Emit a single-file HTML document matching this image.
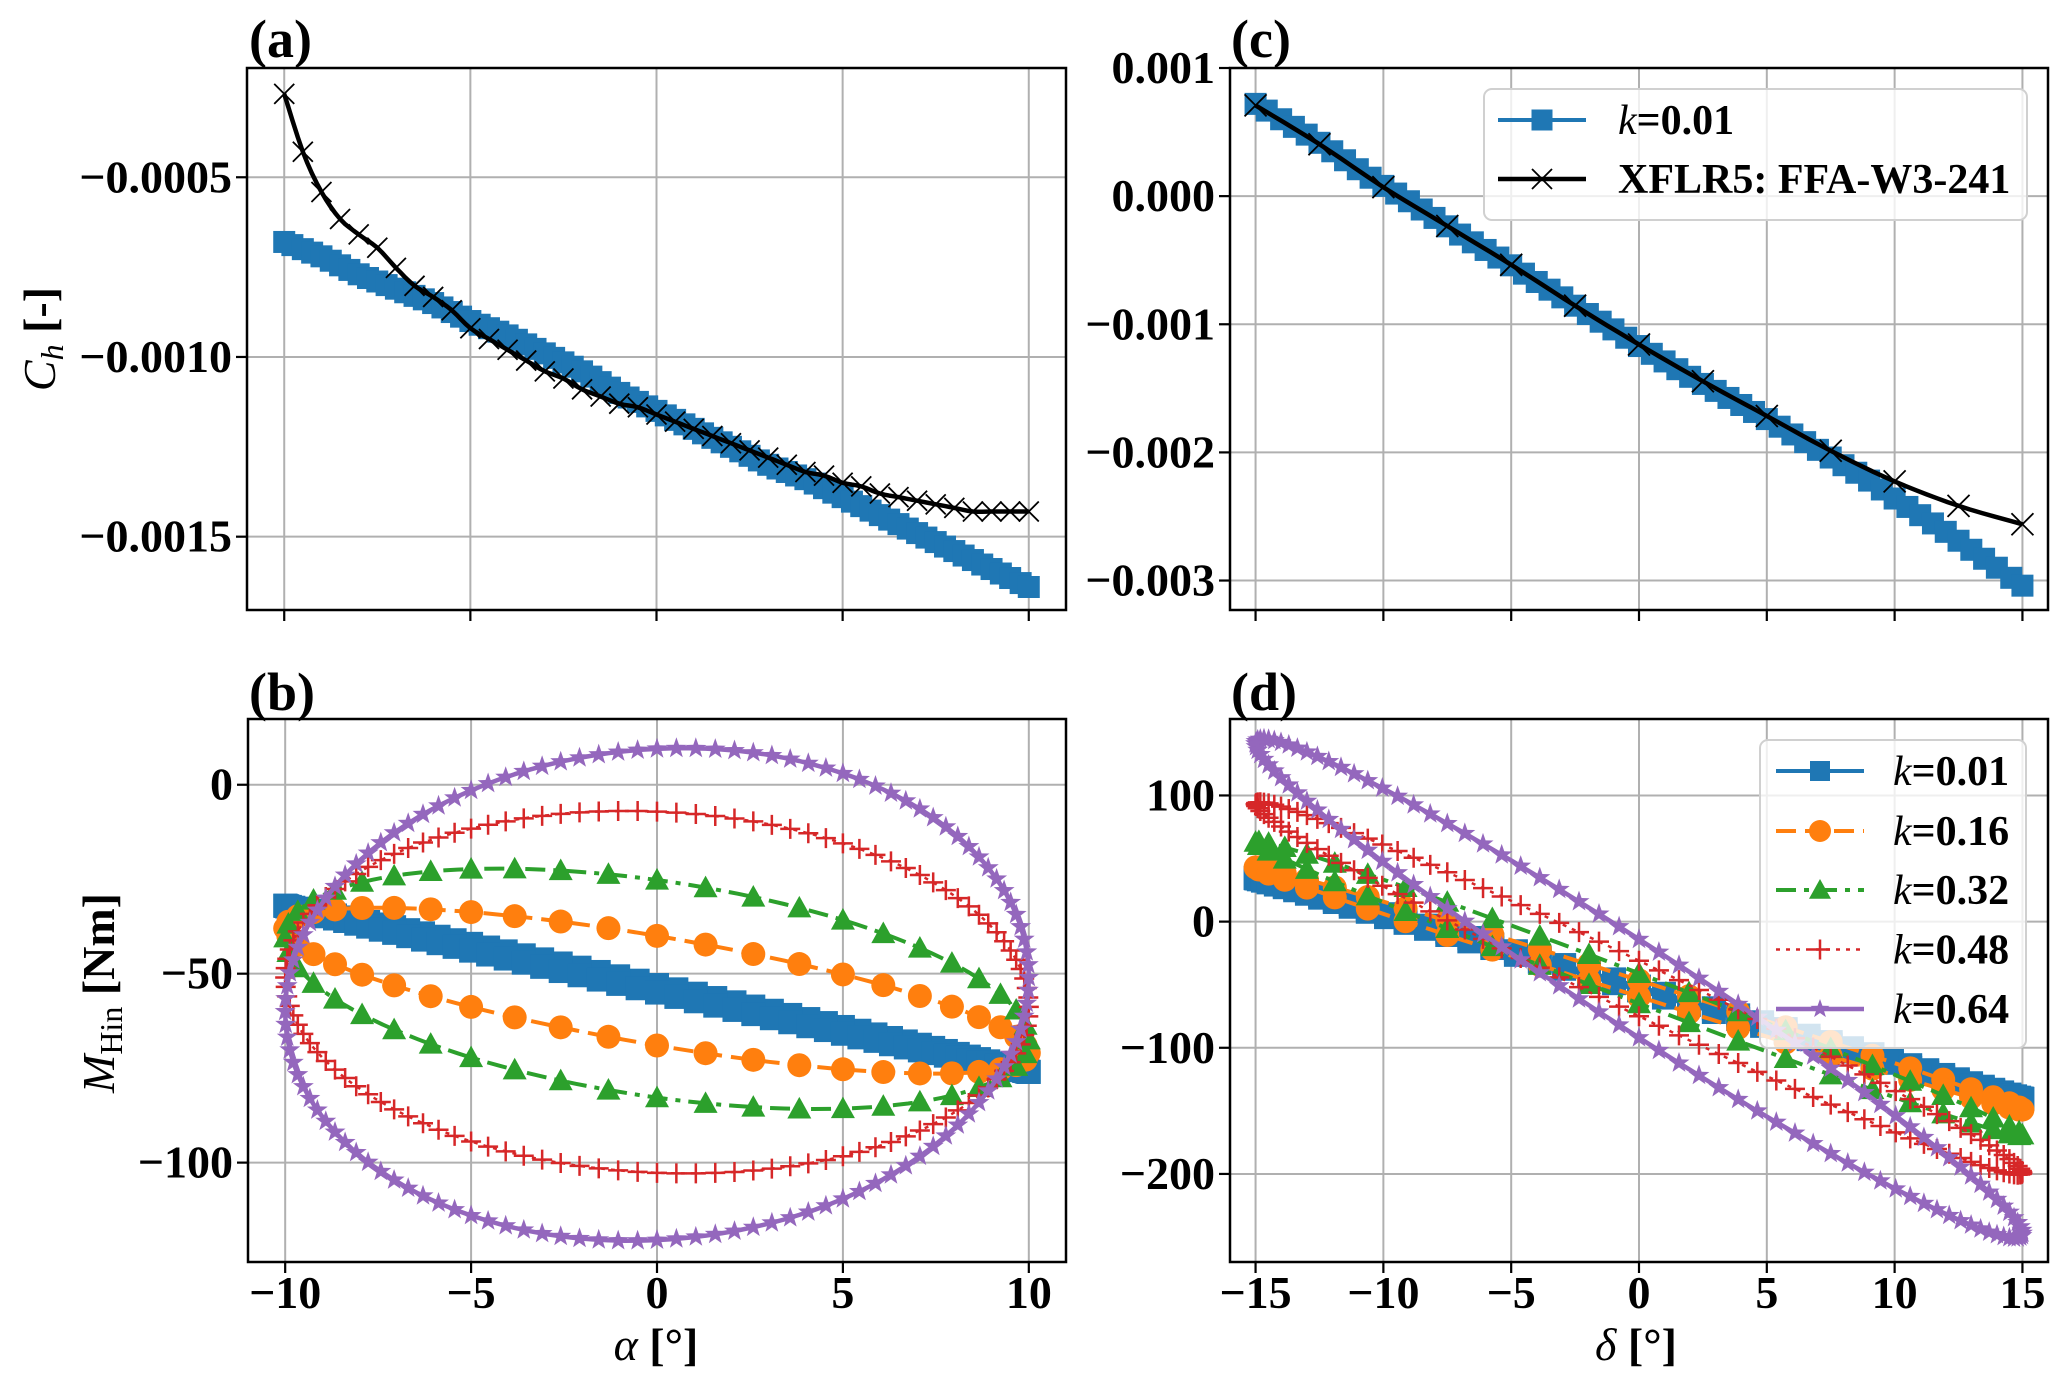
<!DOCTYPE html>
<html><head><meta charset="utf-8"><style>
html,body{margin:0;padding:0;background:#fff;}
svg{display:block;font-family:"Liberation Serif","DejaVu Serif",serif;font-weight:bold;}
</style></head><body>
<svg id="fig" xmlns="http://www.w3.org/2000/svg" width="2067" height="1386" viewBox="0 0 2067 1386"></svg>
<script>
// ---------- data ----------
const aAlpha = [-10,-9.5,-9,-8.5,-8,-7.5,-7,-6.5,-6,-5.5,-5,-4.5,-4,-3.5,-3,-2.5,-2,-1.5,-1,-0.5,0,0.5,1,1.5,2,2.5,3,3.5,4,4.5,5,5.5,6,6.5,7,7.5,8,8.5,9,9.5,10];
const aBlueCh = [-0.00068,-0.00070,-0.00072,-0.000745,-0.00077,-0.00079,-0.00081,-0.00083,-0.00085,-0.000875,-0.00090,-0.00092,-0.00094,-0.000965,-0.00099,-0.001015,-0.00104,-0.00107,-0.00110,-0.001125,-0.00115,-0.001175,-0.00120,-0.001225,-0.00125,-0.001275,-0.00130,-0.00132,-0.00134,-0.001365,-0.00139,-0.001415,-0.00144,-0.001465,-0.00149,-0.001515,-0.00154,-0.001565,-0.00159,-0.001615,-0.00164];
const aXflrCh = [-0.000268,-0.000429,-0.000541,-0.000616,-0.000659,-0.000696,-0.000752,-0.000802,-0.000833,-0.00087,-0.00092,-0.00095,-0.00098,-0.00101,-0.00104,-0.00106,-0.00109,-0.00111,-0.00113,-0.00114,-0.00116,-0.00118,-0.00120,-0.00122,-0.00124,-0.00126,-0.00128,-0.00130,-0.00132,-0.00133,-0.00135,-0.00136,-0.00138,-0.00139,-0.00140,-0.00141,-0.00142,-0.00143,-0.00143,-0.00143,-0.00143];

const cDelta = [-15,-14,-13,-12,-11,-10,-9,-8,-7,-6,-5,-4,-3,-2,-1,0,1,2,3,4,5,6,7,8,9,10,11,12,13,14,15];
const cBlueCh = [0.00072,0.0006,0.00048,0.00035,0.00021,0.00008,-0.00004,-0.00017,-0.0003,-0.00042,-0.00054,-0.00067,-0.00079,-0.00092,-0.00104,-0.00117,-0.00129,-0.00141,-0.00152,-0.00163,-0.00174,-0.00186,-0.00198,-0.0021,-0.00222,-0.00236,-0.00249,-0.00262,-0.00276,-0.0029,-0.00304];
const cXflrDelta = [-15,-12.5,-10,-7.5,-5,-2.5,0,2.5,5,7.5,10,12.5,15];
const cXflrCh = [0.000708,0.000405,0.00007,-0.000233,-0.000536,-0.000855,-0.001158,-0.001445,-0.001716,-0.001987,-0.002226,-0.002417,-0.002561];

const bAlpha = [10,9.66,8.66,7.07,5,2.59,0,-2.59,-5,-7.07,-8.66,-9.66,-10,-9.66,-8.66,-7.07,-5,-2.59,0,2.59,5,7.07,8.66,9.66];
const bM001 = [-76.0,-75.0,-72.6,-68.8,-64.1,-58.7,-53.0,-47.3,-42.1,-37.7,-34.6,-32.8,-32.0,-33.0,-35.4,-39.2,-43.9,-49.3,-55.0,-60.7,-65.9,-70.3,-73.4,-75.3];
const bM016 = [-71.0,-66.7,-61.5,-55.9,-50.2,-44.8,-40.0,-36.2,-33.7,-32.6,-33.0,-34.8,-38.0,-42.3,-47.5,-53.1,-58.8,-64.2,-69.0,-72.8,-75.3,-76.4,-76.0,-74.2];
const bM032 = [-67.5,-59.6,-51.3,-43.2,-35.8,-29.7,-25.2,-22.7,-22.3,-24.1,-27.9,-33.5,-40.5,-48.4,-56.7,-64.8,-72.2,-78.3,-82.8,-85.3,-85.7,-83.9,-80.1,-74.5];
const bM048 = [-58.8,-46.3,-34.4,-23.9,-15.5,-9.7,-7.1,-7.7,-11.6,-18.3,-27.6,-38.8,-51.0,-63.5,-75.4,-85.9,-94.4,-100.1,-102.7,-102.1,-98.3,-91.5,-82.2,-71.1];
const bM064 = [-51.0,-34.3,-19.1,-6.4,3.0,8.5,9.5,6.1,-1.5,-12.7,-26.9,-43.0,-60.0,-76.7,-91.9,-104.6,-114.0,-119.5,-120.5,-117.1,-109.6,-98.3,-84.1,-68.0];

const dDelta = [15,14.49,12.99,10.61,7.5,3.88,0,-3.88,-7.5,-10.61,-12.99,-14.49,-15,-14.49,-12.99,-10.61,-7.5,-3.88,0,3.88,7.5,10.61,12.99,14.49];
const dM001 = [-140.5,-137.1,-128.1,-113.8,-95.5,-74.3,-51.5,-28.9,-8.0,10.0,23.6,31.9,34.5,31.1,22.1,7.8,-10.6,-31.8,-54.5,-77.2,-98.1,-116.0,-129.6,-137.9];
const dM016 = [-149,-144.0,-132.9,-116.3,-95.4,-71.6,-46.5,-21.8,0.6,19.5,33.4,41.4,43,38.0,26.9,10.3,-10.6,-34.4,-59.5,-84.2,-106.6,-125.5,-139.4,-147.4];
const dM032 = [-169,-162.0,-147.5,-126.5,-100.6,-71.4,-41,-11.4,15.4,37.5,53.5,62.2,63,56.0,41.5,20.5,-5.4,-34.6,-65,-94.6,-121.4,-143.5,-159.5,-168.2];
const dM048 = [-199,-188.3,-168.4,-140.7,-107.0,-69.6,-31,6.1,39.1,65.8,84.4,93.7,93,82.3,62.4,34.7,1.0,-36.5,-75,-112.1,-145.1,-171.8,-190.4,-199.7];
const dM064 = [-247,-230.3,-201.5,-162.6,-116.2,-65.5,-14,34.9,77.8,111.8,134.5,144.5,141,124.3,95.5,56.6,10.2,-40.5,-92,-140.9,-183.8,-217.8,-240.5,-250.5];

const abXTicks = [-10,-5,0,5,10];
const abXTickLabels = ["\u221210","\u22125","0","5","10"];
const cdXTicks = [-15,-10,-5,0,5,10,15];
const cdXTickLabels = ["\u221215","\u221210","\u22125","0","5","10","15"];
const aYTicks = [-0.0005,-0.0010,-0.0015];
const aYTickLabels = ["\u22120.0005","\u22120.0010","\u22120.0015"];
const bYTicks = [0,-50,-100];
const bYTickLabels = ["0","\u221250","\u2212100"];
const cYTicks = [0.001,0,-0.001,-0.002,-0.003];
const cYTickLabels = ["0.001","0.000","\u22120.001","\u22120.002","\u22120.003"];
const dYTicks = [100,0,-100,-200];
const dYTickLabels = ["100","0","\u2212100","\u2212200"];
const kLabels = ["0.01","0.16","0.32","0.48","0.64"];

// ---------- helpers ----------
const NS="http://www.w3.org/2000/svg";
const svg=document.getElementById('fig');
function mk(tag,attrs,parent){const e=document.createElementNS(NS,tag);for(const k in attrs)e.setAttribute(k,attrs[k]);(parent||svg).appendChild(e);return e;}
const C={blue:"#1f77b4",orange:"#ff7f0e",green:"#2ca02c",red:"#d62728",purple:"#9467bd"};

function makeAxes(name,x0,x1,y0,y1,xmin,xmax,ymin,ymax){
  const g=mk('g',{});
  
  
  const clipId='clip-'+name;
  const cp=mk('clipPath',{id:clipId},g);
  mk('rect',{x:x0,y:y0,width:x1-x0,height:y1-y0},cp);
  const ax={g,x0,x1,y0,y1,
    sx:v=>x0+(v-xmin)/(xmax-xmin)*(x1-x0),
    sy:v=>y1-(v-ymin)/(ymax-ymin)*(y1-y0)};
  ax.grid=mk('g',{},g);
  ax.plot=mk('g',{'clip-path':'url(#'+clipId+')'},g);
  ax.top=mk('g',{},g);
  return ax;
}
function xTicks(ax,ticks,labels){
  ticks.forEach((t,i)=>{
    const x=ax.sx(t);
    const gl=mk('line',{x1:x,x2:x,y1:ax.y0,y2:ax.y1,stroke:"#b0b0b0","stroke-width":2},ax.grid);
    
    
    const tk=mk('line',{x1:x,x2:x,y1:ax.y1,y2:ax.y1+11,stroke:"#000","stroke-width":2.2},ax.top);
    
    
    if(labels){
      const tx=mk('text',{x:x,y:ax.y1+46,'text-anchor':'middle','font-size':46},ax.top);
      tx.textContent=labels[i];
      
      
    }
  });
}
function yTicks(ax,ticks,labels){
  ticks.forEach((t,i)=>{
    const y=ax.sy(t);
    const gl=mk('line',{x1:ax.x0,x2:ax.x1,y1:y,y2:y,stroke:"#b0b0b0","stroke-width":2},ax.grid);
    
    
    const tk=mk('line',{x1:ax.x0-11,x2:ax.x0,y1:y,y2:y,stroke:"#000","stroke-width":2.2},ax.top);
    
    
    const tx=mk('text',{x:ax.x0-15,y:y+15,'text-anchor':'end','font-size':46},ax.top);
    tx.textContent=labels[i];
    
    
  });
}
function frame(ax){
  const r=mk('rect',{x:ax.x0,y:ax.y0,width:ax.x1-ax.x0,height:ax.y1-ax.y0,fill:"none",stroke:"#000","stroke-width":2.5},ax.top);
  
  
}
function catmull(pts,closed,n){
  const out=[];const N=pts.length;
  const get=i=>closed?pts[(i+N)%N]:pts[Math.max(0,Math.min(N-1,i))];
  const segs=closed?N:N-1;
  for(let i=0;i<segs;i++){
    const p0=get(i-1),p1=get(i),p2=get(i+1),p3=get(i+2);
    for(let s=0;s<n;s++){
      const t=s/n,t2=t*t,t3=t2*t;
      out.push([0.5*((2*p1[0])+(-p0[0]+p2[0])*t+(2*p0[0]-5*p1[0]+4*p2[0]-p3[0])*t2+(-p0[0]+3*p1[0]-3*p2[0]+p3[0])*t3),
                0.5*((2*p1[1])+(-p0[1]+p2[1])*t+(2*p0[1]-5*p1[1]+4*p2[1]-p3[1])*t2+(-p0[1]+3*p1[1]-3*p2[1]+p3[1])*t3)]);
    }
  }
  if(!closed)out.push(pts[N-1]);
  return out;
}
function marker(type,x,y,col,sz,parent){
  let e;
  if(type==='s'){e=mk('rect',{x:x-sz/2,y:y-sz/2,width:sz,height:sz,fill:col},parent);}
  else if(type==='o'){e=mk('circle',{cx:x,cy:y,r:sz/2,fill:col},parent);}
  else if(type==='^'){const h=sz/2;e=mk('polygon',{points:`${x},${y-h} ${x+h},${y+h*0.8} ${x-h},${y+h*0.8}`,fill:col},parent);}
  else if(type==='+'){const h=sz/2;e=mk('path',{d:`M${x-h},${y}H${x+h}M${x},${y-h}V${y+h}`,stroke:col,'stroke-width':2.5,fill:'none'},parent);}
  else if(type==='x'){const h=sz/2;e=mk('path',{d:`M${x-h},${y-h}L${x+h},${y+h}M${x-h},${y+h}L${x+h},${y-h}`,stroke:col,'stroke-width':1.8,fill:'none'},parent);}
  else if(type==='*'){let p=[];for(let k=0;k<10;k++){const r=k%2?sz*0.2:sz/2;const a=-Math.PI/2+k*Math.PI/5;p.push((x+r*Math.cos(a)).toFixed(1)+','+(y+r*Math.sin(a)).toFixed(1));}
    e=mk('polygon',{points:p.join(' '),fill:col},parent);}
  
  
  return e;
}
function series(ax,name,xs,ys,o){
  const g=mk('g',{},ax.plot);
  
  
  const pts=xs.map((v,i)=>[ax.sx(v),ax.sy(ys[i])]);
  const sm=catmull(pts,o.closed,o.sub);
  const d='M'+sm.map(p=>p[0].toFixed(1)+','+p[1].toFixed(1)).join('L')+(o.closed?'Z':'');
  const ln=mk('path',{d,fill:'none',stroke:o.col,'stroke-width':o.lw,'stroke-dasharray':o.dash||'none','stroke-linejoin':'round'},g);
  
  
  const mp=o.msub?catmull(pts,o.closed,o.msub):pts;
  mp.forEach(p=>marker(o.m,p[0],p[1],o.col,o.ms,g));
}
function text(str,x,y,fs,attrs,name){
  const t=mk('text',Object.assign({x,y,'font-size':fs},attrs||{}));
  t.innerHTML=str;
  
  
  return t;
}

// ---------- axes ----------
const A=makeAxes('panel-a',247,1066,68,610,-11,11,-0.001704,-0.000196);
const B=makeAxes('panel-b',248,1066,719,1262,-11,11,-126.3,17.4);
const Cc=makeAxes('panel-c',1230,2048,68,610,-16,16,-0.00323,0.001);
const D=makeAxes('panel-d',1230,2048,719,1262,-16,16,-269.8,160.6);

xTicks(A,abXTicks,null); yTicks(A,aYTicks,aYTickLabels);
xTicks(B,abXTicks,abXTickLabels); yTicks(B,bYTicks,bYTickLabels);
xTicks(Cc,cdXTicks,null); yTicks(Cc,cYTicks,cYTickLabels);
xTicks(D,cdXTicks,cdXTickLabels); yTicks(D,dYTicks,dYTickLabels);

// panel a
series(A,'a-k001-series',aAlpha,aBlueCh,{col:C.blue,lw:4,m:'s',ms:22,closed:false,sub:4,msub:2});
series(A,'a-xflr5-series',aAlpha,aXflrCh,{col:'#000',lw:4.5,m:'x',ms:20,closed:false,sub:4});
// panel c
series(Cc,'c-k001-series',cDelta,cBlueCh,{col:C.blue,lw:4,m:'s',ms:22,closed:false,sub:4,msub:2});
series(Cc,'c-xflr5-series',cXflrDelta,cXflrCh,{col:'#000',lw:4.5,m:'x',ms:22,closed:false,sub:6});
// panel b
series(B,'b-k001-series',bAlpha,bM001,{col:C.blue,lw:4,m:'s',ms:24,closed:true,sub:6,msub:5});
series(B,'b-k016-series',bAlpha,bM016,{col:C.orange,lw:4,m:'o',ms:24,closed:true,sub:6,msub:2,dash:'20 9'});
series(B,'b-k032-series',bAlpha,bM032,{col:C.green,lw:4,m:'^',ms:24,closed:true,sub:6,msub:2,dash:'20 8 5 8'});
series(B,'b-k048-series',bAlpha,bM048,{col:C.red,lw:2.5,m:'+',ms:20,closed:true,sub:6,msub:5,dash:'4 6'});
series(B,'b-k064-series',bAlpha,bM064,{col:C.purple,lw:4.5,m:'*',ms:22,closed:true,sub:6,msub:5});
// panel d
series(D,'d-k001-series',dDelta,dM001,{col:C.blue,lw:4,m:'s',ms:24,closed:true,sub:6,msub:4});
series(D,'d-k016-series',dDelta,dM016,{col:C.orange,lw:4,m:'o',ms:24,closed:true,sub:6,msub:2,dash:'20 9'});
series(D,'d-k032-series',dDelta,dM032,{col:C.green,lw:4,m:'^',ms:24,closed:true,sub:6,msub:2,dash:'20 8 5 8'});
series(D,'d-k048-series',dDelta,dM048,{col:C.red,lw:2.5,m:'+',ms:20,closed:true,sub:6,msub:5,dash:'4 6'});
series(D,'d-k064-series',dDelta,dM064,{col:C.purple,lw:4.5,m:'*',ms:22,closed:true,sub:6,msub:5});

[A,B,Cc,D].forEach(frame);

// legends
function legend(name,x,y,w,h,entries){
  const g=mk('g',{});
  
  
  const r=mk('rect',{x,y,width:w,height:h,rx:8,fill:'#fff','fill-opacity':0.8,stroke:'#d0d0d0','stroke-width':2},g);
  
  
  entries.forEach(e=>{
    const eg=mk('g',{},g);
    
    
    const ln=mk('line',{x1:e.hx,x2:e.hx+88,y1:e.y,y2:e.y,stroke:e.col,'stroke-width':e.lw,'stroke-dasharray':e.dash||'none'},eg);
    
    
    marker(e.m,e.hx+44,e.y,e.col,e.ms,eg);
    const t=mk('text',{x:e.tx,y:e.y+14,'font-size':42},eg);
    t.innerHTML=e.label;
    
    
  });
}
legend('legend-c',1484,89,543,131,[
  {y:120,hx:1498,tx:1618,col:C.blue,lw:4,m:'s',ms:21,label:'<tspan font-style="italic" font-weight="normal">k</tspan>=0.01'},
  {y:179,hx:1498,tx:1618,col:'#000',lw:4.5,m:'x',ms:20,label:'XFLR5: FFA-W3-241'}
]);
const dCols=[C.blue,C.orange,C.green,C.red,C.purple];
const dMk=['s','o','^','+','*'];
const dDash=['none','20 9','20 8 5 8','4 6','none'];
const dLw=[4,4,4,2.5,4.5];
const dMs=[20,22,22,20,20];
const dY=[771,831,890,949.5,1009];
legend('legend-d',1760,740,266,308,kLabels.map((k,i)=>({y:dY[i],hx:1776,tx:1893,col:dCols[i],lw:dLw[i],m:dMk[i],ms:dMs[i],dash:dDash[i],
  label:'<tspan font-style="italic" font-weight="normal">k</tspan>='+k})));

// titles & labels
text('(a)',249,57,54,{},'panel-a-title');
text('(b)',249,710,54,{},'panel-b-title');
text('(c)',1231,57,54,{},'panel-c-title');
text('(d)',1231,710,54,{},'panel-d-title');
text('<tspan font-style="italic" font-weight="normal">α</tspan> [°]',656,1360,46,{'text-anchor':'middle'},'x-axis-title-b');
text('<tspan font-style="italic" font-weight="normal">δ</tspan> [°]',1636,1360,46,{'text-anchor':'middle'},'x-axis-title-d');
text('<tspan font-style="italic" font-weight="normal">C</tspan><tspan font-style="italic" font-weight="normal" font-size="32" dy="8">h</tspan><tspan dy="-8"> [-]</tspan>',0,0,46,{'text-anchor':'middle',transform:'translate(55,339) rotate(-90)'},'y-axis-title-a');
text('<tspan font-style="italic" font-weight="normal">M</tspan><tspan font-weight="normal" font-size="32" dy="8">Hin</tspan><tspan dy="-8">  [Nm]</tspan>',0,0,46,{'text-anchor':'middle',transform:'translate(114,993) rotate(-90)'},'y-axis-title-b');
</script>
</body></html>
